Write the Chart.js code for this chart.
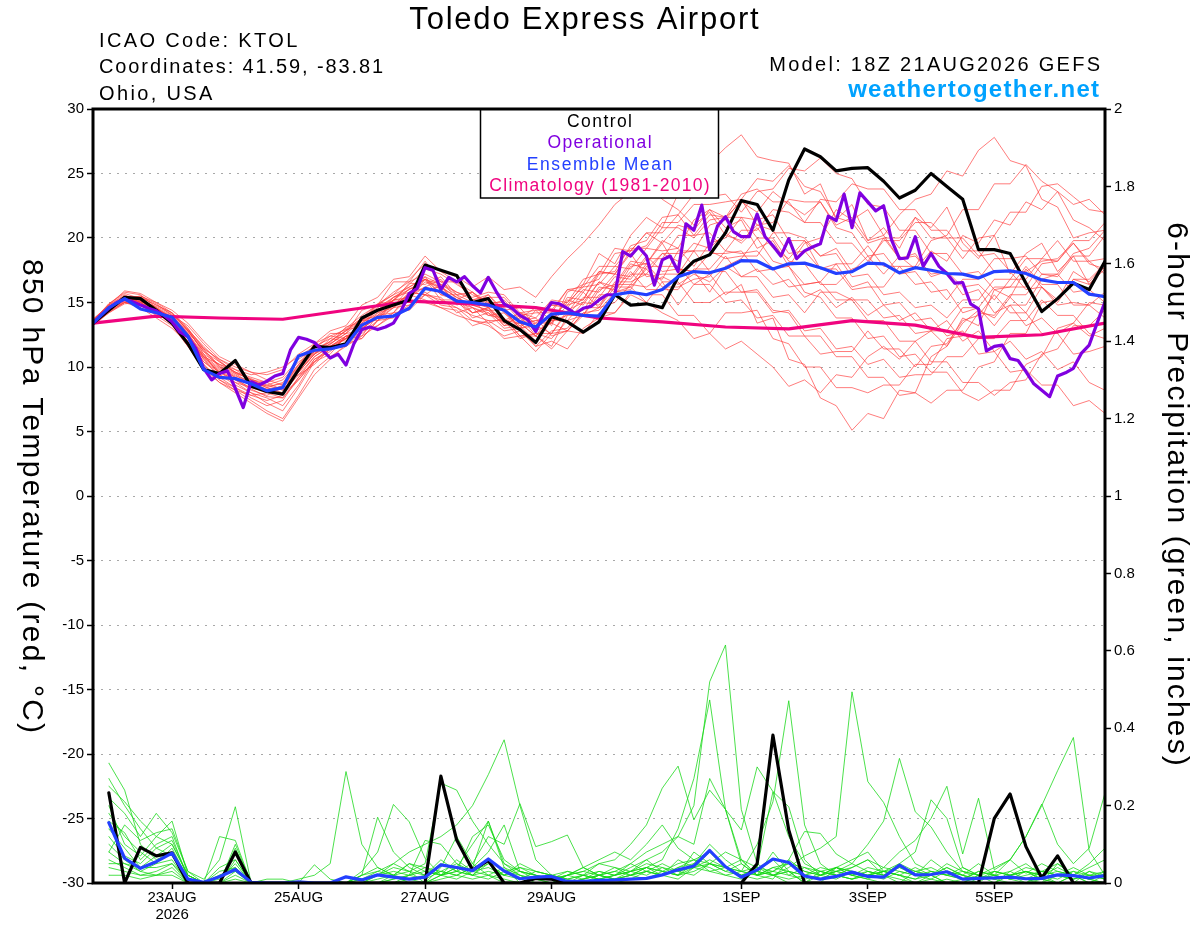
<!DOCTYPE html>
<html>
<head>
<meta charset="utf-8">
<script src="https://cdn.jsdelivr.net/npm/chart.js@4.4.1/dist/chart.umd.min.js"></script>
<style>
  html, body { margin: 0; padding: 0; background: #fff; }
  canvas { display: block; }
</style>
</head>
<body>
<canvas id="myChart" width="1200" height="927"></canvas>
<script>
// x axis: forecast hour from 18Z 21AUG2026
var tickHours = [30, 78, 126, 174, 246, 294, 342];
var tickLabels = [['23AUG', '2026'], '25AUG', '27AUG', '29AUG', '1SEP', '3SEP', '5SEP'];

// 850 hPa temperature (C), every 6 h from hour 0
var controlTemp = [13.4, 14.4, 15.4, 15.3, 14.4, 13.4, 11.8, 9.8, 9.5, 10.5, 8.5, 8.1, 7.9,
  9.8, 11.6, 11.5, 11.8, 13.8, 14.4, 14.8, 15.2, 17.9, 17.5, 17.1, 15.0, 15.3,
  13.6, 12.9, 11.9, 13.9, 13.5, 12.7, 13.5, 15.6, 14.8, 14.9, 14.6, 17.0, 18.2,
  18.7, 20.4, 22.9, 22.6, 20.6, 24.5, 26.9, 26.3, 25.2, 25.4, 25.45, 24.4, 23.1,
  23.7, 25.0, 24.0, 23.0, 19.1, 19.1, 18.8, 16.5, 14.3, 15.3, 16.5, 16.0, 18.2];

var meanTemp = [13.4, 14.6, 15.3, 14.5, 14.2, 13.85, 12.4, 9.8, 9.2, 9.1, 8.7, 8.15, 8.4,
  10.85, 11.3, 11.4, 11.7, 13.25, 13.85, 13.95, 14.55, 16.1, 15.85, 15.1, 15.0, 14.8,
  14.4, 13.5, 13.1, 14.1, 14.2, 14.0, 13.95, 15.6, 15.8, 15.6, 16.0, 17.0, 17.4,
  17.3, 17.65, 18.25, 18.2, 17.6, 18.0, 18.05, 17.7, 17.25, 17.4, 18.05, 18.0, 17.3,
  17.7, 17.5, 17.25, 17.2, 16.9, 17.4, 17.45, 17.25, 16.75, 16.55, 16.55, 15.65, 15.45];

// operational run, every 3 h
var operTemp = [13.4, 14.0, 14.55, 15.0, 15.25, 15.05, 14.8, 14.55, 14.35, 14.0,
  13.5, 12.7, 12.35, 11.45, 9.9, 9.0, 9.5, 9.7, 8.35, 6.85,
  8.85, 8.6, 8.9, 9.3, 9.5, 11.35, 12.3, 12.15, 11.9, 11.3,
  10.7, 11.0, 10.15, 11.8, 12.9, 13.1, 12.9, 13.1, 13.4, 14.4,
  15.7, 16.1, 17.7, 17.5, 16.0, 16.95, 16.6, 17.0, 16.3, 15.75,
  16.95, 15.85, 14.9, 14.55, 14.0, 13.65, 12.75, 14.15, 15.0, 14.9,
  14.55, 14.15, 14.55, 14.7, 15.2, 15.6, 15.6, 18.95, 18.6, 19.3,
  18.6, 16.35, 18.3, 18.6, 17.4, 21.1, 20.6, 22.55, 19.1, 20.95,
  21.65, 20.5, 20.1, 20.1, 21.85, 20.1, 19.4, 18.6, 19.95, 18.4,
  19.0, 19.3, 19.55, 21.7, 21.35, 23.4, 20.8, 23.5, 22.8, 22.1,
  22.5, 19.85, 18.4, 18.45, 20.1, 17.8, 18.8, 17.8, 17.25, 16.5,
  16.55, 14.9, 14.5, 11.25, 11.6, 11.7, 10.65, 10.5, 9.65, 8.7,
  8.2, 7.7, 9.3, 9.55, 9.9, 11.05, 11.7, 13.4, 15.05];

// climatology 1981-2010, daily at 18Z
var climTemp = [13.4, 13.95, 13.8, 13.7, 14.4, 15.1, 14.9, 14.6, 13.8, 13.5, 13.1, 12.95,
  13.6, 13.25, 12.3, 12.5, 13.4];

// ensemble members (thin red), every 6 h
var memberTemps = [
  [13.6, 14.8, 15.6, 15.0, 14.2, 13.5, 12.0, 10.4, 9.6, 9.0, 8.2, 7.8, 8.4,
   10.2, 11.8, 12.4, 12.9, 13.8, 14.9, 15.6, 16.2, 16.8, 16.0, 15.2, 14.8, 15.6,
   14.2, 13.0, 14.4, 13.2, 15.8, 16.4, 18.8, 18.0, 20.2, 21.6, 20.8, 23.4, 24.8,
   25.8, 27.0, 28.0, 26.3, 26.0, 25.8, 23.4, 24.2, 21.4, 22.6, 19.8, 20.8, 19.2,
   21.6, 20.8, 22.4, 19.6, 18.4, 20.2, 17.2, 18.8, 19.6, 17.4, 18.6, 16.4, 17.8],
  [13.3, 14.4, 15.1, 15.3, 14.6, 13.8, 12.8, 11.2, 10.0, 9.4, 8.6, 8.2, 7.9,
   9.0, 10.6, 11.2, 12.4, 12.2, 13.6, 14.2, 15.4, 16.2, 16.8, 15.2, 15.8, 14.6,
   13.2, 14.0, 12.4, 11.4, 12.8, 14.2, 13.6, 15.8, 16.2, 15.0, 16.6, 14.8, 16.4,
   17.2, 15.6, 16.4, 13.4, 13.8, 10.6, 10.2, 7.6, 7.0, 5.1, 6.4, 6.0, 8.2,
   8.0, 10.8, 11.6, 13.8, 13.2, 16.0, 15.4, 17.6, 16.2, 15.0, 16.8, 16.4, 17.6],
  [13.5, 14.6, 15.5, 15.4, 14.8, 14.2, 13.0, 11.0, 9.4, 8.6, 8.0, 7.2, 6.6,
   8.4, 10.4, 11.4, 12.2, 13.4, 14.4, 15.2, 16.4, 17.6, 17.2, 16.4, 15.6, 15.0,
   14.4, 13.0, 13.2, 12.6, 14.4, 15.0, 16.6, 15.8, 17.8, 18.0, 19.8, 19.2, 21.4,
   22.2, 20.8, 21.4, 19.2, 19.8, 17.8, 19.6, 20.0, 22.2, 21.4, 22.2, 20.2, 21.8,
   23.0, 23.4, 25.2, 24.8, 26.8, 27.8, 26.0, 25.6, 23.0, 22.4, 20.0, 20.4, 20.6],
  [13.4, 14.9, 15.8, 15.6, 14.6, 13.6, 12.2, 10.8, 10.2, 9.8, 9.0, 8.8, 9.2,
   10.6, 11.4, 12.4, 12.2, 13.6, 14.0, 15.4, 15.8, 16.8, 15.6, 15.2, 14.2, 14.6,
   13.4, 14.2, 13.8, 15.2, 15.0, 16.2, 16.4, 17.8, 17.6, 19.2, 19.0, 19.2, 17.8,
   19.6, 20.0, 21.6, 21.4, 21.8, 19.8, 19.8, 17.6, 18.0, 16.2, 16.6, 14.8, 15.0,
   13.6, 13.8, 12.4, 12.8, 11.0, 11.2, 9.6, 9.8, 8.6, 8.6, 7.0, 7.4, 6.4],
  [13.2, 14.2, 14.9, 15.0, 14.2, 13.4, 12.4, 10.6, 9.2, 8.4, 7.6, 7.0, 7.4,
   9.2, 10.8, 11.6, 12.4, 13.0, 13.8, 14.8, 15.6, 15.2, 14.6, 14.0, 13.6, 13.2,
   12.4, 12.8, 11.6, 12.8, 13.0, 14.6, 14.6, 16.6, 16.6, 17.2, 16.8, 19.0, 19.0,
   21.0, 21.4, 23.0, 21.0, 20.6, 18.8, 19.0, 17.6, 17.6, 16.0, 16.2, 16.2, 17.8,
   17.8, 19.8, 20.2, 22.2, 22.2, 24.2, 24.2, 25.7, 24.4, 23.6, 21.4, 20.8, 19.8],
  [13.7, 14.7, 15.2, 14.8, 14.0, 13.2, 11.6, 9.8, 8.8, 8.2, 7.8, 8.0, 8.6,
   10.0, 11.2, 11.8, 12.6, 12.8, 14.2, 14.6, 15.8, 15.6, 15.4, 14.2, 14.6, 13.4,
   13.8, 12.4, 12.6, 12.2, 13.6, 14.0, 16.0, 16.4, 18.2, 18.0, 19.6, 17.6, 17.4,
   15.8, 17.8, 18.4, 20.0, 18.2, 17.8, 15.8, 15.4, 13.8, 13.8, 12.2, 12.4, 10.8,
   11.0, 9.6, 9.6, 8.0, 7.4, 8.2, 8.2, 10.2, 10.8, 13.0, 13.4, 15.0, 14.8],
  [13.5, 14.5, 15.4, 15.2, 14.4, 13.9, 12.6, 11.0, 10.2, 9.6, 9.2, 8.8, 8.2,
   9.6, 11.0, 12.0, 12.8, 13.6, 14.8, 15.8, 16.6, 17.2, 16.6, 15.8, 15.4, 15.8,
   15.6, 14.2, 14.4, 14.4, 16.0, 15.8, 17.4, 17.2, 19.0, 19.4, 21.2, 21.2, 22.6,
   22.6, 22.8, 23.0, 24.6, 24.4, 25.6, 24.0, 23.6, 21.6, 21.2, 19.6, 20.0, 18.4,
   18.6, 17.2, 17.4, 16.2, 16.4, 15.2, 16.8, 16.8, 18.4, 18.2, 19.6, 18.2, 18.4],
  [13.4, 14.6, 15.2, 15.1, 14.6, 14.0, 13.2, 11.8, 10.6, 9.8, 9.4, 9.6, 10.0,
   10.8, 11.6, 12.2, 13.0, 14.0, 14.8, 15.6, 16.8, 18.0, 17.4, 16.6, 15.8, 15.0,
   15.0, 13.6, 13.8, 12.4, 12.8, 12.6, 14.2, 14.2, 15.8, 15.6, 15.6, 14.0, 14.0,
   12.6, 14.2, 14.2, 14.4, 12.2, 11.8, 10.0, 10.0, 8.4, 8.4, 8.0, 8.6, 8.6,
   10.2, 10.2, 12.2, 12.4, 14.2, 14.0, 15.6, 15.6, 17.2, 17.0, 18.6, 18.6, 20.2],
  [13.3, 14.3, 15.0, 14.9, 14.3, 13.7, 12.2, 10.4, 9.4, 8.8, 8.4, 8.6, 9.0,
   10.4, 11.2, 11.6, 12.4, 12.6, 13.6, 14.6, 14.8, 15.8, 15.0, 15.0, 14.2, 14.6,
   13.6, 14.2, 13.4, 14.8, 14.6, 16.0, 15.8, 17.2, 17.0, 18.6, 17.4, 17.6, 17.4,
   18.8, 18.8, 19.0, 17.4, 17.6, 16.2, 16.4, 16.6, 18.0, 18.0, 19.4, 17.8, 17.8,
   16.4, 16.6, 15.2, 16.8, 16.8, 18.4, 18.4, 18.6, 17.2, 17.2, 15.8, 16.0, 15.0],
  [13.6, 14.8, 15.9, 15.7, 15.0, 14.2, 12.8, 11.4, 10.6, 10.0, 9.6, 9.4, 9.8,
   11.0, 11.8, 12.8, 13.2, 14.8, 15.4, 16.8, 17.0, 18.6, 17.4, 17.0, 16.2, 17.0,
   16.0, 16.2, 15.4, 17.0, 18.4, 19.6, 21.0, 22.6, 23.6, 24.2, 23.0, 22.2, 21.0,
   22.0, 20.2, 19.8, 21.0, 21.2, 23.0, 22.8, 22.8, 20.8, 20.4, 18.6, 18.8, 17.2,
   17.4, 15.8, 16.0, 14.2, 14.6, 13.2, 14.8, 14.8, 16.8, 17.2, 18.8, 19.2, 20.6],
  [13.4, 14.4, 15.3, 15.5, 15.0, 14.4, 13.4, 12.0, 10.8, 10.2, 9.6, 9.0, 8.6,
   9.4, 10.2, 11.4, 11.6, 12.8, 13.2, 14.2, 14.4, 15.6, 14.8, 14.6, 13.6, 13.4,
   12.2, 12.4, 11.2, 12.6, 12.8, 14.2, 14.4, 15.8, 16.0, 17.8, 17.8, 17.8, 16.4,
   16.4, 15.0, 15.2, 13.8, 14.0, 12.4, 12.4, 11.0, 11.2, 11.2, 12.8, 11.4, 11.4,
   10.0, 11.6, 11.8, 13.6, 14.0, 15.6, 14.2, 14.2, 12.6, 12.6, 11.0, 11.2, 11.6],
  [13.5, 14.7, 15.4, 15.2, 14.4, 13.6, 12.4, 10.8, 9.6, 8.8, 8.0, 7.6, 7.0,
   8.6, 10.6, 11.4, 12.2, 13.0, 13.8, 14.6, 15.4, 16.6, 16.2, 15.4, 14.8, 14.4,
   13.6, 13.4, 12.4, 13.6, 14.0, 15.4, 15.4, 17.0, 16.8, 18.4, 18.4, 20.2, 20.2,
   21.8, 21.6, 21.6, 20.0, 20.0, 18.2, 18.0, 16.4, 16.4, 17.6, 18.0, 20.0, 20.0,
   21.6, 20.0, 20.0, 18.4, 20.0, 20.2, 22.0, 22.0, 24.0, 24.2, 23.2, 22.2, 22.0],
  [13.3, 14.5, 15.0, 14.6, 13.8, 13.0, 11.8, 10.2, 9.0, 8.2, 7.4, 6.6, 6.0,
   7.8, 9.8, 10.8, 11.6, 12.4, 13.2, 14.0, 14.8, 15.6, 15.2, 14.6, 14.0, 13.6,
   13.6, 12.2, 12.6, 12.6, 14.2, 14.4, 16.2, 16.0, 17.4, 16.0, 16.0, 16.0, 17.6,
   17.6, 19.0, 18.8, 19.0, 17.6, 17.8, 16.4, 16.6, 15.2, 15.2, 13.6, 13.6, 12.0,
   12.0, 10.4, 10.4, 8.8, 8.8, 7.8, 8.8, 9.0, 11.0, 11.4, 13.2, 13.2, 14.4],
  [13.6, 14.9, 15.7, 15.3, 14.5, 13.9, 12.8, 11.2, 10.4, 9.6, 9.0, 8.4, 8.8,
   10.2, 11.4, 12.6, 12.6, 14.4, 14.8, 16.6, 16.6, 18.2, 16.6, 16.6, 15.2, 15.6,
   14.4, 14.6, 13.2, 14.8, 14.8, 16.4, 16.8, 18.8, 19.0, 20.4, 20.4, 21.8, 20.2,
   20.4, 19.0, 20.6, 20.6, 22.2, 22.0, 21.2, 23.0, 22.8, 24.2, 23.8, 23.8, 22.2,
   22.2, 20.6, 20.6, 19.0, 19.0, 17.4, 17.4, 16.0, 16.2, 14.8, 15.0, 14.8, 15.8],
  [13.4, 14.6, 15.4, 15.4, 14.8, 14.2, 13.0, 11.4, 10.0, 9.2, 8.6, 8.0, 7.6,
   9.2, 10.4, 11.6, 11.6, 13.6, 13.6, 15.2, 15.4, 17.0, 15.6, 15.6, 14.2, 14.4,
   13.2, 13.4, 12.4, 14.0, 14.2, 15.8, 14.6, 16.2, 16.2, 17.6, 16.2, 16.2, 16.8,
   17.0, 18.6, 17.0, 17.0, 15.4, 15.6, 14.2, 15.8, 15.8, 15.2, 15.2, 13.8, 14.0,
   12.6, 12.8, 12.8, 14.6, 14.6, 16.2, 16.2, 17.8, 16.4, 16.4, 14.8, 14.8, 13.8],
  [13.5, 14.5, 15.1, 15.0, 14.4, 13.8, 12.6, 10.8, 9.8, 9.2, 8.6, 8.2, 8.0,
   9.6, 11.0, 11.8, 12.6, 13.6, 14.4, 15.4, 16.2, 17.0, 16.4, 15.6, 15.0, 14.6,
   14.6, 13.4, 13.6, 13.4, 14.8, 15.2, 17.2, 17.4, 19.4, 19.8, 21.6, 21.8, 23.4,
   23.2, 23.4, 22.0, 23.6, 23.8, 25.4, 25.2, 26.2, 25.0, 24.6, 22.6, 22.4, 20.6,
   20.6, 18.8, 18.8, 17.2, 17.4, 16.0, 16.2, 16.2, 18.0, 18.2, 19.8, 19.8, 21.2],
  [13.2, 14.3, 15.0, 15.1, 14.7, 14.1, 12.9, 11.6, 10.4, 9.6, 9.0, 8.6, 8.2,
   9.8, 11.0, 12.2, 12.0, 13.8, 13.8, 15.2, 15.2, 16.8, 15.2, 15.2, 13.8, 14.2,
   13.0, 13.2, 12.0, 13.6, 13.6, 15.0, 14.8, 16.4, 16.4, 18.0, 16.6, 16.6, 15.0,
   15.0, 15.8, 15.8, 16.0, 14.4, 14.2, 12.4, 12.4, 10.8, 10.8, 9.2, 9.2, 7.8,
   8.0, 7.2, 8.2, 8.2, 10.0, 10.4, 12.6, 12.6, 15.0, 15.2, 16.8, 16.8, 18.0],
  [13.7, 14.8, 15.5, 15.0, 14.2, 13.6, 12.2, 10.6, 9.6, 9.0, 8.4, 8.0, 8.4,
   9.8, 11.2, 12.0, 12.8, 13.8, 14.6, 15.4, 16.0, 16.8, 16.4, 15.8, 15.2, 15.4,
   15.4, 14.0, 14.2, 14.2, 16.0, 16.2, 17.8, 17.8, 19.2, 19.2, 20.8, 20.8, 20.0,
   21.4, 21.6, 23.4, 23.8, 22.8, 22.8, 21.2, 21.2, 19.6, 19.6, 18.2, 19.8, 19.8,
   21.2, 21.2, 20.0, 20.0, 18.6, 18.8, 17.4, 17.4, 18.2, 18.4, 19.6, 18.0, 17.6],
  [13.4, 14.5, 15.2, 15.2, 14.5, 13.9, 12.5, 10.9, 9.9, 9.3, 8.9, 8.4, 8.0,
   9.4, 10.8, 11.6, 12.2, 13.0, 14.0, 14.8, 15.6, 16.2, 15.8, 15.2, 14.8, 14.4,
   14.4, 13.0, 13.4, 13.4, 15.4, 15.2, 17.4, 17.2, 18.8, 17.0, 17.2, 17.2, 19.0,
   19.0, 18.4, 18.6, 18.6, 20.4, 20.4, 20.0, 18.6, 18.8, 17.0, 17.2, 15.6, 15.8,
   14.6, 14.8, 13.8, 15.2, 15.2, 16.8, 16.8, 18.4, 18.4, 19.8, 18.2, 18.2, 17.2],
  [13.5, 14.6, 15.3, 15.1, 14.3, 13.5, 12.0, 10.2, 9.0, 8.4, 7.8, 7.4, 7.8,
   9.6, 11.0, 11.6, 12.2, 13.4, 14.2, 15.2, 16.0, 16.8, 16.2, 15.4, 14.6, 14.0,
   13.8, 12.4, 12.4, 11.6, 14.0, 14.0, 15.6, 15.6, 17.2, 17.2, 18.8, 18.8, 19.0,
   17.4, 17.4, 15.8, 15.8, 14.2, 14.4, 12.8, 13.0, 11.4, 11.6, 10.2, 10.6, 9.2,
   9.4, 9.4, 10.8, 10.8, 12.2, 12.2, 13.6, 13.6, 15.2, 14.0, 14.0, 12.6, 12.2],
  [13.4, 14.7, 15.4, 15.2, 14.2, 13.3, 11.6, 10.0, 8.8, 8.0, 7.2, 6.4, 5.8,
   7.6, 9.4, 10.6, 11.8, 12.2, 13.6, 13.8, 15.2, 15.0, 14.6, 14.4, 13.2, 13.6,
   12.8, 13.0, 11.6, 12.0, 11.4, 13.0, 13.8, 14.2, 15.6, 15.0, 14.2, 13.6, 12.2,
   12.6, 11.4, 12.0, 11.0, 10.0, 8.5, 9.0, 8.0, 9.4, 9.2, 10.8, 11.6, 10.6,
   12.0, 12.8, 11.6, 13.4, 14.4, 13.8, 15.4, 14.2, 16.2, 15.2, 17.4, 16.6, 18.0],
  [13.6, 14.6, 15.3, 15.5, 14.9, 14.0, 12.9, 11.5, 10.5, 9.5, 9.1, 8.5, 8.7,
   10.1, 11.5, 11.9, 13.1, 13.5, 14.9, 15.1, 16.5, 16.4, 17.0, 15.6, 15.8, 14.8,
   15.2, 13.8, 14.6, 13.6, 15.2, 14.8, 16.6, 16.2, 18.0, 17.6, 18.8, 18.2, 19.6,
   19.2, 20.4, 19.6, 20.8, 19.2, 18.4, 19.8, 18.6, 19.2, 17.4, 18.6, 17.2, 18.6,
   17.6, 19.0, 18.2, 20.2, 19.6, 21.4, 21.0, 22.8, 22.2, 23.6, 22.6, 23.0, 21.8],
  [13.3, 14.2, 15.0, 14.8, 14.4, 13.6, 12.3, 10.7, 9.7, 9.1, 8.3, 7.7, 7.6,
   9.0, 10.4, 11.0, 12.4, 12.4, 14.0, 14.2, 15.8, 15.6, 16.4, 14.8, 15.2, 14.0,
   14.2, 13.2, 13.6, 13.8, 15.0, 16.8, 17.2, 19.2, 19.0, 20.4, 19.6, 21.0, 20.6,
   22.2, 21.6, 22.8, 22.0, 23.6, 22.6, 21.8, 22.8, 21.0, 21.6, 19.8, 20.2, 18.4,
   18.8, 17.0, 17.4, 15.6, 16.0, 14.2, 14.8, 13.2, 13.8, 12.6, 13.4, 12.4, 13.0],
  [13.5, 14.5, 15.4, 15.3, 14.5, 13.7, 12.7, 11.3, 10.1, 9.5, 8.7, 8.3, 8.5,
   9.9, 11.1, 11.7, 12.9, 13.1, 14.5, 14.7, 16.1, 16.0, 16.2, 15.0, 14.6, 14.2,
   13.4, 13.8, 12.8, 13.4, 12.8, 14.0, 14.6, 15.0, 16.4, 16.2, 17.0, 16.4, 17.2,
   16.6, 17.8, 17.0, 17.6, 16.4, 16.8, 15.4, 16.0, 14.6, 15.4, 14.0, 14.8, 13.6,
   14.2, 12.8, 13.6, 12.0, 12.8, 11.2, 12.0, 10.6, 11.2, 9.8, 10.4, 8.8, 8.2]
];

// 6-hour precipitation (inches), every 6 h from hour 6
var controlPrecip = [
  0.233, 0, 0.092, 0.07, 0.078, 0, 0, 0, 0.08, 0, 0, 0, 0, 0, 0, 0,
  0, 0, 0, 0, 0, 0.276, 0.111, 0.034, 0.058, 0, 0, 0.012, 0.01, 0, 0, 0,
  0, 0, 0, 0, 0, 0, 0, 0, 0, 0.05, 0.382, 0.137, 0, 0, 0, 0,
  0, 0, 0, 0, 0, 0, 0, 0, 0.167, 0.23, 0.094, 0.013, 0.07, 0, 0, 0];

var meanPrecip = [
  0.156, 0.064, 0.038, 0.055, 0.077, 0.01, 0.002, 0.016, 0.035, 0.002, 0, 0, 0.003, 0, 0, 0.016,
  0.008, 0.021, 0.015, 0.01, 0.015, 0.047, 0.04, 0.032, 0.062, 0.031, 0.011, 0.015, 0.017, 0.004, 0.004, 0.007,
  0.008, 0.01, 0.012, 0.021, 0.034, 0.044, 0.084, 0.042, 0.015, 0.034, 0.062, 0.053, 0.018, 0.01, 0.017, 0.028,
  0.017, 0.015, 0.046, 0.021, 0.022, 0.029, 0.01, 0.012, 0.013, 0.015, 0.011, 0.012, 0.021, 0.019, 0.013, 0.019];

var memberPrecips = [
  [0.31, 0.24, 0.10, 0.06, 0.08, 0, 0, 0, 0.02, 0, 0, 0, 0, 0, 0, 0,
   0, 0.02, 0.05, 0.03, 0, 0.04, 0.12, 0.05, 0.02, 0, 0, 0, 0, 0, 0.01, 0.02,
   0.03, 0.05, 0.08, 0.10, 0.12, 0.20, 0.52, 0.615, 0.19, 0.05, 0.02, 0, 0, 0.03, 0.02, 0.04,
   0.06, 0.02, 0, 0, 0.01, 0, 0, 0.02, 0, 0, 0, 0.01, 0, 0.02, 0, 0],
  [0.25, 0.21, 0.16, 0.12, 0.10, 0.02, 0, 0, 0, 0, 0, 0, 0, 0, 0, 0,
   0.02, 0.04, 0.02, 0, 0, 0.02, 0.04, 0.1, 0.16, 0.04, 0, 0, 0, 0.02, 0.04, 0.02,
   0.01, 0.02, 0.04, 0.06, 0.14, 0.27, 0.473, 0.19, 0.05, 0.02, 0.08, 0.03, 0, 0, 0.04, 0.02,
   0.01, 0, 0, 0.03, 0.02, 0, 0, 0, 0.03, 0.02, 0, 0, 0.05, 0.02, 0, 0.02],
  [0.22, 0.18, 0.12, 0.18, 0.13, 0.03, 0, 0.02, 0.03, 0, 0, 0, 0, 0, 0, 0,
   0, 0, 0.02, 0.05, 0.04, 0.03, 0.02, 0.04, 0.08, 0.15, 0.03, 0.01, 0, 0, 0, 0,
   0, 0.01, 0.03, 0.02, 0.04, 0.05, 0.1, 0.06, 0.03, 0.1, 0.21, 0.471, 0.15, 0.05, 0.02, 0.01,
   0.03, 0.02, 0.01, 0, 0.02, 0.04, 0.02, 0, 0, 0.03, 0.05, 0.02, 0, 0, 0.03, 0.01],
  [0.18, 0.12, 0.08, 0.05, 0.06, 0, 0, 0.12, 0.11, 0, 0, 0, 0, 0, 0, 0,
   0, 0, 0, 0.02, 0.01, 0.03, 0.05, 0.03, 0.02, 0.04, 0.02, 0, 0, 0, 0.01, 0.03,
   0.02, 0.03, 0.04, 0.02, 0.06, 0.04, 0.08, 0.04, 0.02, 0.03, 0.02, 0.04, 0.07, 0.09, 0.12, 0.494,
   0.262, 0.208, 0.12, 0.05, 0.03, 0.02, 0.01, 0, 0, 0.02, 0.03, 0.01, 0, 0.02, 0.01, 0],
  [0.12, 0.07, 0.05, 0.09, 0.07, 0.01, 0, 0, 0.06, 0, 0, 0, 0, 0, 0, 0,
   0, 0, 0, 0, 0, 0.02, 0.03, 0.02, 0.05, 0.02, 0.01, 0.03, 0.02, 0.01, 0, 0.02,
   0.04, 0.03, 0.06, 0.03, 0.02, 0.08, 0.05, 0.04, 0.02, 0.03, 0.06, 0.02, 0.01, 0.02, 0.04, 0.02,
   0.03, 0.02, 0.05, 0.03, 0.04, 0.02, 0.01, 0.03, 0.02, 0.06, 0.12, 0.20, 0.29, 0.376, 0.083, 0.02],
  [0.08, 0.05, 0.03, 0.02, 0.04, 0, 0, 0.04, 0.06, 0, 0, 0, 0, 0, 0, 0,
   0.02, 0.03, 0.05, 0.08, 0.1, 0.12, 0.15, 0.2, 0.28, 0.37, 0.2, 0.06, 0.02, 0, 0.02, 0.05,
   0.04, 0.02, 0.01, 0.03, 0.05, 0.06, 0.08, 0.04, 0.02, 0.01, 0.02, 0.03, 0, 0.02, 0.04, 0.06,
   0.08, 0.03, 0.02, 0, 0, 0.01, 0, 0.02, 0.01, 0, 0, 0.03, 0.05, 0.02, 0.01, 0],
  [0.2, 0.1, 0.07, 0.12, 0.16, 0.02, 0, 0, 0.09, 0, 0, 0, 0.01, 0.02, 0.05, 0.288,
   0.1, 0.04, 0.02, 0.01, 0.02, 0.06, 0.03, 0.02, 0.06, 0.03, 0.02, 0.01, 0, 0.02, 0.04, 0.06,
   0.08, 0.06, 0.1, 0.15, 0.09, 0.06, 0.05, 0.03, 0.05, 0.02, 0.04, 0.03, 0.02, 0.01, 0.03, 0.02,
   0.01, 0.03, 0.02, 0.01, 0.02, 0, 0.01, 0.03, 0.02, 0.01, 0, 0.02, 0.03, 0.02, 0.05, 0.09],
  [0.16, 0.13, 0.06, 0.1, 0.12, 0.01, 0, 0.03, 0.04, 0, 0, 0, 0, 0, 0, 0,
   0.01, 0.02, 0.04, 0.03, 0.05, 0.258, 0.24, 0.16, 0.1, 0.05, 0.02, 0.01, 0.02, 0.03, 0.02, 0.01,
   0.02, 0.05, 0.03, 0.02, 0.04, 0.06, 0.03, 0.04, 0.03, 0.02, 0.01, 0.06, 0.03, 0.02, 0.01, 0.03,
   0.02, 0.04, 0.03, 0.02, 0.01, 0.03, 0.02, 0.01, 0.02, 0.03, 0.01, 0, 0.02, 0.01, 0.02, 0.03],
  [0.14, 0.09, 0.04, 0.07, 0.1, 0.02, 0, 0, 0.01, 0, 0, 0, 0, 0, 0, 0,
   0, 0, 0.01, 0.02, 0.04, 0.02, 0.01, 0.03, 0.05, 0.02, 0.03, 0.02, 0.01, 0.02, 0.03, 0.05,
   0.06, 0.1, 0.15, 0.245, 0.302, 0.163, 0.24, 0.19, 0.06, 0.02, 0.04, 0.05, 0.03, 0.02, 0.03, 0.05,
   0.03, 0.02, 0.04, 0.02, 0.06, 0.03, 0.02, 0.05, 0.02, 0.01, 0.03, 0.02, 0.04, 0.02, 0.01, 0.03],
  [0.1, 0.06, 0.03, 0.05, 0.09, 0.01, 0, 0, 0.03, 0, 0, 0, 0, 0, 0, 0,
   0.01, 0.03, 0.02, 0.05, 0.03, 0.02, 0.06, 0.03, 0.04, 0.02, 0.05, 0.03, 0.02, 0.01, 0.02, 0.03,
   0.02, 0.04, 0.06, 0.08, 0.12, 0.1, 0.27, 0.19, 0.137, 0.30, 0.236, 0.197, 0.06, 0.02, 0.04, 0.03,
   0.02, 0.03, 0.02, 0.01, 0.03, 0.02, 0.04, 0.02, 0.01, 0.02, 0.03, 0.01, 0.02, 0.03, 0.01, 0.02],
  [0.06, 0.04, 0.02, 0.03, 0.05, 0, 0, 0, 0.1, 0, 0, 0, 0, 0, 0, 0,
   0, 0.01, 0.02, 0.03, 0.02, 0.05, 0.03, 0.12, 0.15, 0.06, 0.03, 0.02, 0.01, 0.02, 0.01, 0.02,
   0.03, 0.02, 0.04, 0.03, 0.02, 0.04, 0.05, 0.03, 0.02, 0.04, 0.03, 0.06, 0.133, 0.128, 0.075, 0.05,
   0.1, 0.16, 0.322, 0.184, 0.145, 0.08, 0.03, 0.02, 0.01, 0.02, 0.04, 0.03, 0.02, 0.01, 0.03, 0.02],
  [0.04, 0.03, 0.02, 0.02, 0.03, 0, 0, 0, 0, 0, 0, 0, 0, 0, 0, 0,
   0, 0, 0.01, 0.02, 0.03, 0.02, 0.04, 0.02, 0.01, 0.03, 0.04, 0.02, 0.01, 0.02, 0.03, 0.02,
   0.01, 0.03, 0.05, 0.04, 0.02, 0.03, 0.05, 0.04, 0.06, 0.02, 0.03, 0.05, 0.04, 0.02, 0.03, 0.04,
   0.06, 0.04, 0.08, 0.11, 0.167, 0.25, 0.075, 0.219, 0.034, 0.06, 0.025, 0.05, 0.03, 0.02, 0.04, 0.06],
  [0.02, 0.02, 0.01, 0.02, 0.02, 0, 0, 0, 0, 0, 0, 0, 0, 0, 0, 0,
   0, 0, 0, 0.01, 0, 0.01, 0.02, 0.01, 0.02, 0.01, 0, 0.01, 0.02, 0, 0.01, 0.02,
   0.01, 0.02, 0.03, 0.02, 0.01, 0.04, 0.03, 0.02, 0.01, 0.03, 0.02, 0.01, 0.02, 0.03, 0.02, 0.01,
   0.02, 0.03, 0.02, 0.04, 0.02, 0.05, 0.03, 0.02, 0.04, 0.06, 0.12, 0.204, 0.1, 0.05, 0.09, 0.232],
  [0.27, 0.2, 0.14, 0.09, 0.11, 0.02, 0, 0.01, 0.05, 0, 0, 0, 0, 0, 0, 0,
   0.03, 0.08, 0.203, 0.158, 0.064, 0.02, 0.03, 0.05, 0.12, 0.1, 0.205, 0.094, 0.107, 0.124, 0.04, 0.02,
   0.01, 0.02, 0.03, 0.05, 0.03, 0.04, 0.06, 0.04, 0.03, 0.02, 0.03, 0.02, 0.04, 0.03, 0.02, 0.01,
   0.02, 0.01, 0.03, 0.02, 0.03, 0.02, 0.03, 0.01, 0.02, 0.01, 0.02, 0.03, 0.02, 0.01, 0.02, 0.01],
  [0.08, 0.15, 0.11, 0.13, 0.14, 0.03, 0.01, 0.06, 0.197, 0, 0, 0, 0, 0.047, 0.01, 0,
   0, 0.02, 0.03, 0.02, 0.11, 0.1, 0.05, 0.02, 0.03, 0.02, 0.04, 0.03, 0.02, 0.01, 0.02, 0.01,
   0.02, 0.03, 0.02, 0.04, 0.03, 0.02, 0.05, 0.08, 0.06, 0.04, 0.236, 0.12, 0.05, 0.03, 0.04, 0.03,
   0.02, 0.03, 0.04, 0.03, 0.02, 0.04, 0.02, 0.01, 0.03, 0.02, 0.01, 0.03, 0.02, 0.04, 0.02, 0.01],
  [0.05, 0.05, 0.04, 0.04, 0.05, 0.01, 0, 0.02, 0.04, 0, 0.01, 0.01, 0, 0, 0, 0,
   0.02, 0.17, 0.08, 0.04, 0.02, 0.03, 0.02, 0.04, 0.16, 0.05, 0.03, 0.02, 0.01, 0.03, 0.02, 0.01,
   0.02, 0.03, 0.04, 0.03, 0.02, 0.05, 0.04, 0.02, 0.03, 0.04, 0.02, 0.03, 0.02, 0.04, 0.03, 0.02,
   0.04, 0.03, 0.05, 0.08, 0.215, 0.167, 0.04, 0.02, 0.03, 0.02, 0.03, 0.02, 0.01, 0.03, 0.02, 0.02]
];

// forecast hours for each series
var hours6 = [];
for (var h = 0; h <= 384; h += 6) hours6.push(h);
var hours3 = [];
for (var h3 = 0; h3 <= 384; h3 += 3) hours3.push(h3);
var hours24 = [];
for (var h24 = 0; h24 <= 384; h24 += 24) hours24.push(h24);
var precipHours = hours6.slice(1);

function toPoints(xs, ys) {
  return ys.map(function (v, i) { return { x: xs[i], y: v }; });
}

var FONT = "'Liberation Sans', Arial, Helvetica, sans-serif";

var datasets = [];
datasets.push({ label: 'Ensemble Mean', data: toPoints(hours6, meanTemp), yAxisID: 'y',
  borderColor: '#2340ff', borderWidth: 3.2, order: 1 });
datasets.push({ label: 'Operational', data: toPoints(hours3, operTemp), yAxisID: 'y',
  borderColor: '#8000e0', borderWidth: 3.2, order: 2 });
datasets.push({ label: 'Control', data: toPoints(hours6, controlTemp), yAxisID: 'y',
  borderColor: '#000000', borderWidth: 3.2, order: 3 });
datasets.push({ label: 'Climatology', data: toPoints(hours24, climTemp), yAxisID: 'y',
  borderColor: '#f0047f', borderWidth: 3.2, order: 4 });
datasets.push({ label: 'Mean precip', data: toPoints(precipHours, meanPrecip), yAxisID: 'y2',
  borderColor: '#2340ff', borderWidth: 3.2, order: 1 });
datasets.push({ label: 'Control precip', data: toPoints(precipHours, controlPrecip), yAxisID: 'y2',
  borderColor: '#000000', borderWidth: 3.2, order: 3 });
memberTemps.forEach(function (m, i) {
  datasets.push({ label: 'Member ' + (i + 1), data: toPoints(hours6, m), yAxisID: 'y',
    borderColor: 'rgba(255, 60, 60, 0.75)', borderWidth: 0.9, order: 10 });
});
memberPrecips.forEach(function (m, i) {
  datasets.push({ label: 'Member precip ' + (i + 1), data: toPoints(precipHours, m), yAxisID: 'y2',
    borderColor: 'rgba(20, 215, 20, 0.85)', borderWidth: 0.9, order: 10 });
});

// draws text widened with letter spacing so it spans ratio * its natural width
function wideText(ctx, text, x, y, ratio, align) {
  ctx.letterSpacing = '0px';
  var w = ctx.measureText(text).width;
  var target = w * ratio;
  var n = text.length;
  var ls = n > 1 ? (target - w) / (n - 1) : 0;
  ctx.letterSpacing = ls + 'px';
  var x0 = x;
  if (align === 'center') x0 = x - target / 2;
  else if (align === 'right') x0 = x - target;
  ctx.textAlign = 'left';
  ctx.fillText(text, x0, y);
  ctx.letterSpacing = '0px';
}

var decor = {
  id: 'decor',
  beforeDraw: function (chart) {
    var ctx = chart.ctx;
    ctx.save();
    ctx.fillStyle = '#fff';
    ctx.fillRect(0, 0, chart.width, chart.height);
    ctx.restore();
  },
  afterDatasetsDraw: function (chart) {
    var ctx = chart.ctx;
    var a = chart.chartArea;
    ctx.save();
    // legend box
    ctx.fillStyle = '#fff';
    ctx.fillRect(480, a.top, 239, 89);
    ctx.strokeStyle = '#000';
    ctx.lineWidth = 1.5;
    ctx.strokeRect(480.5, a.top, 238, 89);
    ctx.font = '17.5px ' + FONT;
    ctx.textBaseline = 'alphabetic';
    var rows = [['Control', '#000000', 127], ['Operational', '#8000e0', 148],
      ['Ensemble Mean', '#2340ff', 169.5], ['Climatology (1981-2010)', '#f0047f', 191]];
    rows.forEach(function (r) {
      ctx.fillStyle = r[1];
      wideText(ctx, r[0], 599.5, r[2], 1.15, 'center');
    });
    // frame
    ctx.strokeStyle = '#000';
    ctx.lineWidth = 3;
    ctx.strokeRect(a.left, a.top, a.right - a.left, a.bottom - a.top);
    ctx.restore();
  },
  afterDraw: function (chart) {
    var ctx = chart.ctx;
    ctx.save();
    ctx.fillStyle = '#000';
    ctx.textBaseline = 'alphabetic';
    ctx.font = '31px ' + FONT;
    wideText(ctx, 'Toledo Express Airport', 584, 29, 1.12, 'center');
    ctx.font = '20px ' + FONT;
    wideText(ctx, 'ICAO Code: KTOL', 99, 47, 1.2, 'left');
    wideText(ctx, 'Coordinates: 41.59, -83.81', 99, 73, 1.2, 'left');
    wideText(ctx, 'Ohio, USA', 99, 100, 1.2, 'left');
    wideText(ctx, 'Model: 18Z 21AUG2026 GEFS', 1100, 71, 1.2, 'right');
    ctx.font = 'bold 24px ' + FONT;
    ctx.fillStyle = '#00a2ff';
    wideText(ctx, 'weathertogether.net', 1099, 97, 1.1, 'right');

    // axis titles, both reading top to bottom
    ctx.fillStyle = '#000';
    ctx.font = '30px ' + FONT;
    ctx.textBaseline = 'middle';
    ctx.save();
    ctx.translate(31, 496);
    ctx.rotate(Math.PI / 2);
    wideText(ctx, '850 hPa Temperature (red, \u00B0C)', 0, 0, 1.155, 'center');
    ctx.restore();
    ctx.save();
    ctx.translate(1176, 494);
    ctx.rotate(Math.PI / 2);
    wideText(ctx, '6-hour Precipitation (green, inches)', 0, 0, 1.16, 'center');
    ctx.restore();
    ctx.restore();
  }
};

var ctx = document.getElementById('myChart');
var myChart = new Chart(ctx, {
  type: 'line',
  data: { datasets: datasets },
  options: {
    responsive: false,
    animation: false,
    events: [],
    layout: { padding: { top: 109, left: 0, right: 0, bottom: 0 } },
    elements: {
      point: { radius: 0 },
      line: { tension: 0, fill: false, borderCapStyle: 'round', borderJoinStyle: 'round' }
    },
    plugins: {
      legend: { display: false },
      title: { display: false },
      tooltip: { enabled: false }
    },
    scales: {
      x: {
        type: 'linear',
        min: 0,
        max: 384,
        afterBuildTicks: function (s) {
          s.ticks = tickHours.map(function (v) { return { value: v }; });
        },
        afterFit: function (s) { s.height = 44; },
        ticks: {
          autoSkip: false,
          maxRotation: 0,
          padding: 1,
          color: '#000',
          font: { family: FONT, size: 15, lineHeight: 1.1 },
          callback: function (v, i) { return tickLabels[i]; }
        },
        grid: { drawOnChartArea: false, tickLength: 6, tickColor: '#000', tickWidth: 1.5 },
        border: { display: false }
      },
      y: {
        position: 'left',
        min: -30,
        max: 30,
        afterFit: function (s) { s.width = 93; },
        ticks: { stepSize: 5, padding: 3, color: '#000', font: { family: FONT, size: 15 } },
        grid: { color: '#a8a8a8', lineWidth: 1, tickLength: 6, tickColor: '#000', tickWidth: 1.5 },
        border: { display: false, dash: [2, 6] }
      },
      y2: {
        position: 'right',
        min: 0,
        max: 2,
        afterFit: function (s) { s.width = 95; },
        ticks: {
          stepSize: 0.2, padding: 3, color: '#000', font: { family: FONT, size: 15 },
          callback: function (v) { return String(Math.round(v * 10) / 10); }
        },
        grid: { drawOnChartArea: false, tickLength: 6, tickColor: '#000', tickWidth: 1.5 },
        border: { display: false }
      }
    }
  },
  plugins: [decor]
});
</script>
</body>
</html>
